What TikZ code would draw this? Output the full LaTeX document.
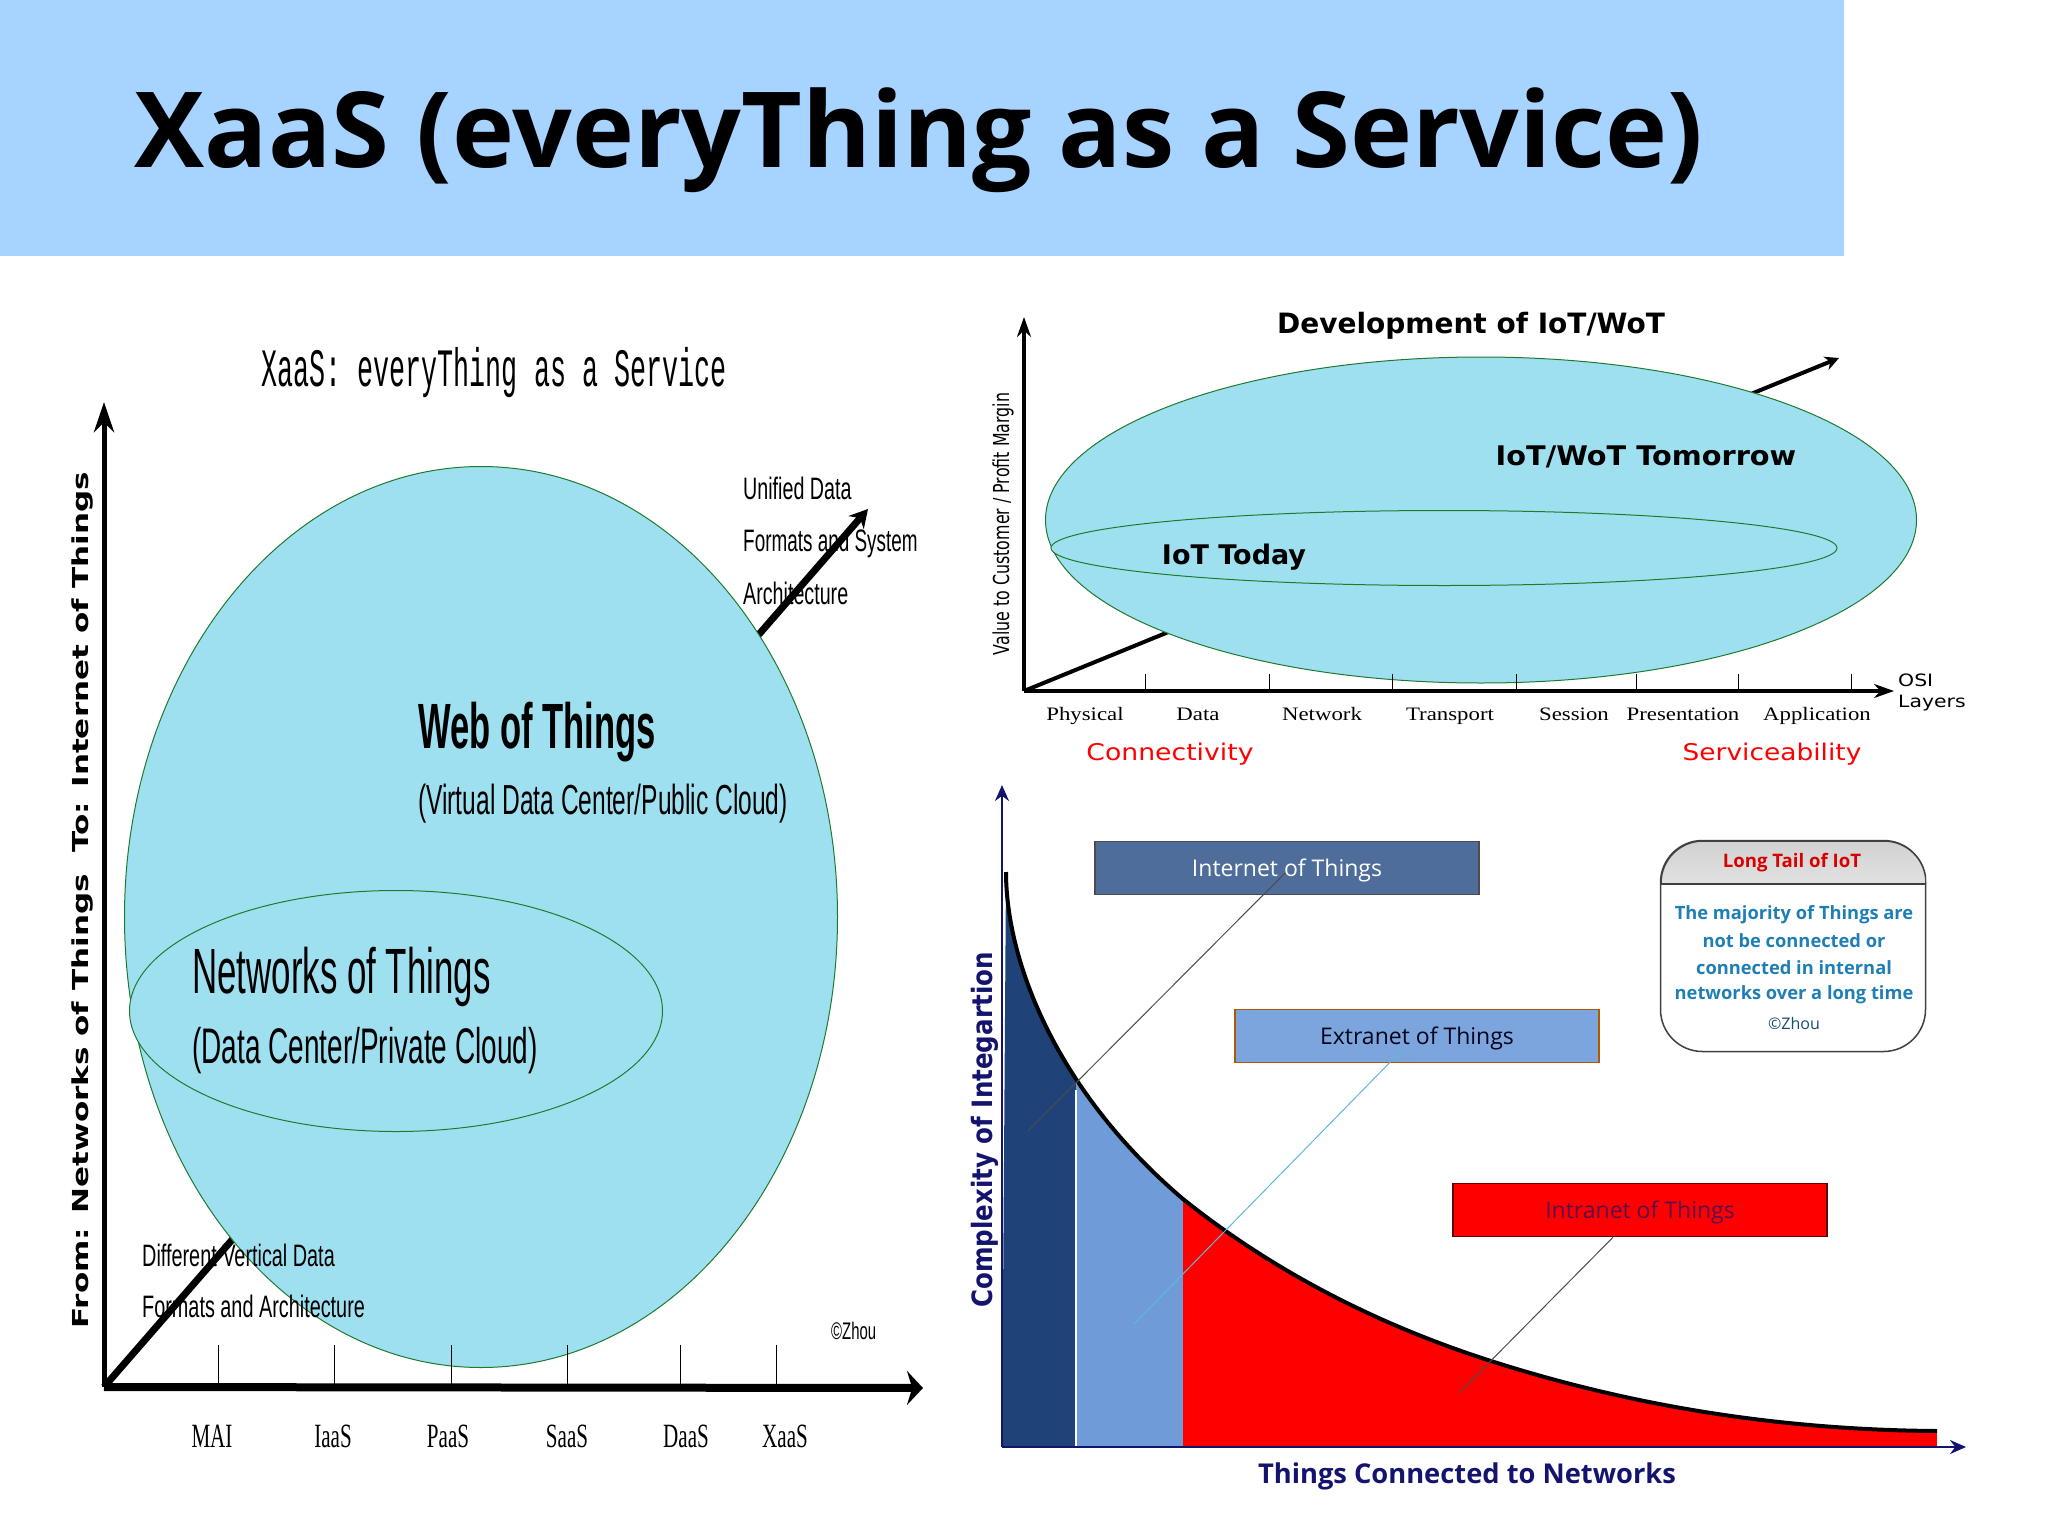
\documentclass[tikz,border=0pt]{standalone}
\usepackage{fontspec}
\usepackage{xcolor}
\usepackage{tikz}
\usetikzlibrary{arrows.meta}
\usetikzlibrary{shapes.geometric}
\setmainfont{Liberation Sans}
\newfontfamily\opensans{Open Sans}
\newfontfamily\dejavu{DejaVu Sans}
\newfontfamily\timesface{Liberation Serif}
\newfontfamily\monoface{Liberation Mono}
\definecolor{bannerblue}{HTML}{A6D3FF}
\definecolor{bubbleblue}{HTML}{9FE0F0}
\definecolor{bubbleline}{HTML}{1E7A2E}
\definecolor{navyink}{HTML}{14146E}
\definecolor{darkband}{HTML}{1F4278}
\definecolor{lightband}{HTML}{6F9BD8}
\definecolor{internetbox}{HTML}{4F6D9B}
\definecolor{extranetbox}{HTML}{7CA5DD}
\definecolor{tailtext}{HTML}{1F7FB5}
\definecolor{leaderblue}{HTML}{5FB8D8}
\newcommand{\squeeze}[2]{\scalebox{#1}[1]{#2}}
\newcommand{\tailline}{.. controls (1006,960) and (1055,1090) .. (1183,1199) .. controls (1283,1279) and (1391,1329) .. (1491,1361) .. controls (1641,1409) and (1790,1430) .. (1937,1431)}
\tikzstyle{bubble} = [ellipse, draw=bubbleline, fill=bubbleblue, line width=1pt, inner sep=0pt]
\tikzstyle{axisthin} = [black, line width=3.5pt, -{Stealth[length=20pt,width=14pt]}]
\tikzstyle{axisthick} = [black, line width=8pt, -{Stealth[length=16pt,width=34pt]}]
\tikzstyle{tickline} = [black, line width=1pt]
\tikzstyle{note} = [inner sep=0pt, anchor=west, font=\fontsize{31}{31}\selectfont]
\tikzstyle{serieslabel} = [inner sep=0pt, anchor=base, font=\timesface\fontsize{34}{34}\selectfont]
\tikzstyle{osilabel} = [inner sep=0pt, anchor=base, font=\timesface\fontsize{19}{19}\selectfont]
\tikzstyle{kindbox} = [rectangle, inner sep=0pt, line width=1.5pt, minimum height=53pt, text height=20pt, text depth=4pt, font=\opensans\fontsize{23}{23}\selectfont]
\tikzstyle{tailline} = [inner sep=0pt, text=tailtext, font=\opensans\bfseries\fontsize{18.3}{18.3}\selectfont]
\tikzstyle{leader} = [line width=1pt]
\begin{document}
\begin{tikzpicture}[x=1pt,y=-1pt]
    \useasboundingbox (0,0) rectangle (2048,1536);
    \fill[bannerblue] (0,0) rectangle (1844,256);
    \node[inner sep=0pt, font=\opensans\bfseries\fontsize{105}{105}\selectfont] (title) at (919,140) {XaaS (everyThing as a Service)};

    \coordinate (lorg) at (104,1387);
    \coordinate (ltop) at (104,402);
    \coordinate (lend) at (923,1388);
    \coordinate (ltip) at (868,509);
    \draw[line width=7pt, -{Stealth[length=18pt,width=20pt]}] (lorg) -- (ltip);
    \node[bubble, minimum width=713pt, minimum height=901pt] (web) at (481,917) {};
    \node[bubble, minimum width=533pt, minimum height=241pt] (net) at (396,1011) {};
    \foreach \tx/\name/\lx in {218/MAI/212, 334/IaaS/333, 451/PaaS/448, 567/SaaS/567, 680/DaaS/686, 776/XaaS/785} {
        \coordinate (t\name) at (\tx,1345);
        \coordinate (b\name) at (\tx,1387);
        \draw[tickline] (t\name) -- (b\name);
        \node[serieslabel] (l\name) at (\lx,1447) {\squeeze{.62}{\name}};
    }
    \draw[axisthin, line width=5pt, -{Stealth[length=30pt,width=20pt]}] (lorg) -- (ltop);
    \draw[axisthick] (lorg) -- (lend);
    \node[inner sep=0pt, font=\monoface\fontsize{54}{54}\selectfont] (ltitle) at (494,373) {\squeeze{.495}{XaaS: everyThing as a Service}};
    \node[inner sep=0pt, rotate=90, font=\dejavu\bfseries\fontsize{22}{22}\selectfont] (lylabel) at (83,900) {\squeeze{1.41}{From: Networks of Things\ \ To: Internet of Things}};
    \node[note] (u1) at (743,488) {\squeeze{.635}{Unified Data}};
    \node[note] (u2) at (743,543) {\squeeze{.61}{Formats and System}};
    \node[note] (u3) at (743,593) {\squeeze{.635}{Architecture}};
    \node[note, font=\bfseries\fontsize{64}{64}\selectfont] (webt) at (418,732) {\squeeze{.54}{Web of Things}};
    \node[note, font=\fontsize{42}{42}\selectfont] (webs) at (418,804) {\squeeze{.585}{(Virtual Data Center/Public Cloud)}};
    \node[note, font=\fontsize{64}{64}\selectfont] (nett) at (192,977) {\squeeze{.545}{Networks of Things}};
    \node[note, font=\fontsize{50}{50}\selectfont] (nets) at (192,1051) {\squeeze{.56}{(Data Center/Private Cloud)}};
    \node[note] (d1) at (142,1255) {\squeeze{.64}{Different Vertical Data}};
    \node[note] (d2) at (142,1306) {\squeeze{.64}{Formats and Architecture}};
    \node[note, font=\fontsize{24}{24}\selectfont] (lcopy) at (831,1331) {\squeeze{.62}{©Zhou}};

    \coordinate (rorg) at (1024,691);
    \coordinate (rtop) at (1024,317);
    \coordinate (rend) at (1894,691);
    \coordinate (rtip) at (1839,358);
    \draw[line width=4pt, -{Stealth[length=14pt,width=14pt]}] (rorg) -- (rtip);
    \node[bubble, minimum width=871pt, minimum height=326pt] (tomorrow) at (1481,520) {};
    \node[bubble, minimum width=786pt, minimum height=75pt] (today) at (1444,548) {};
    \foreach \tx in {1145,1269,1392,1516,1636,1738,1851} {
        \coordinate (t\tx) at (\tx,674);
        \coordinate (b\tx) at (\tx,691);
        \draw[tickline] (t\tx) -- (b\tx);
    }
    \draw[axisthin] (rorg) -- (rtop);
    \draw[axisthin] (rorg) -- (rend);
    \foreach \lx/\name in {1085/Physical, 1198/Data, 1322/Network, 1450/Transport, 1574/Session, 1683/Presentation, 1817/Application} {
        \node[osilabel] (o\name) at (\lx,720) {\squeeze{1.2}{\name}};
    }
    \node[inner sep=0pt, anchor=west, font=\dejavu\fontsize{17}{17}\selectfont] (osi) at (1898,680) {\squeeze{1.2}{OSI}};
    \node[inner sep=0pt, anchor=west, font=\dejavu\fontsize{17}{17}\selectfont] (layers) at (1898,703) {\squeeze{1.2}{Layers}};
    \node[inner sep=0pt, anchor=base, text=red, font=\dejavu\fontsize{23}{23}\selectfont] (conn) at (1170,760) {\squeeze{1.16}{Connectivity}};
    \node[inner sep=0pt, anchor=base, text=red, font=\dejavu\fontsize{23}{23}\selectfont] (serv) at (1772,760) {\squeeze{1.15}{Serviceability}};
    \node[inner sep=0pt, font=\dejavu\bfseries\fontsize{28}{28}\selectfont] (rtitle) at (1471,326) {Development of IoT/WoT};
    \node[inner sep=0pt, font=\dejavu\bfseries\fontsize{27}{27}\selectfont] (tom) at (1646,457) {\squeeze{1.065}{IoT/WoT Tomorrow}};
    \node[inner sep=0pt, font=\dejavu\bfseries\fontsize{27}{27}\selectfont] (tod) at (1234,557) {IoT Today};
    \node[inner sep=0pt, rotate=90, font=\dejavu\fontsize{22}{22}\selectfont] (rylabel) at (1003,524) {\squeeze{.72}{Value to Customer / Profit Margin}};

    \coordinate (corg) at (1002,1447);
    \coordinate (ctop) at (1002,785);
    \coordinate (cend) at (1966,1447);
    \begin{scope}
        \clip (corg) -- (1006,872) \tailline -- (1937,1447) -- cycle;
        \fill[darkband] (1002,860) rectangle (1076,1447);
        \fill[lightband] (1076,860) rectangle (1183,1447);
        \fill[red] (1183,860) rectangle (1937,1447);
    \end{scope}
    \coordinate (sp1) at (1076,1090);
    \coordinate (sp2) at (1076,1447);
    \draw[white, line width=1.5pt] (sp1) -- (sp2);
    \draw[black, line width=4pt] (1006,872) \tailline;
    \draw[navyink, line width=2.5pt, -{Stealth[length=16pt,width=14pt]}] (corg) -- (ctop);
    \draw[navyink, line width=2.5pt, -{Stealth[length=16pt,width=14pt]}] (corg) -- (cend);
    \node[kindbox, draw=black!70, fill=internetbox, text=white, minimum width=384pt] (inet) at (1287,868) {Internet of Things};
    \node[kindbox, draw=orange!70!black, fill=extranetbox, text=black!75!navyink, minimum width=364pt] (enet) at (1417,1036) {Extranet of Things};
    \node[kindbox, draw=black!60!red, fill=red, text=navyink!70!red, minimum width=374pt] (anet) at (1640,1210) {Intranet of Things};
    \coordinate (lead1) at (1028,1131);
    \coordinate (lead2) at (1134,1324);
    \coordinate (lead3) at (1459,1393);
    \coordinate (from1) at (1285,873);
    \coordinate (from2) at (1401,1051);
    \draw[leader, black!70] (from1) -- (lead1);
    \draw[leader, leaderblue] (from2) -- (lead2);
    \draw[leader, black!70] (anet.south) ++(-27,0) coordinate (from3) -- (lead3);
    \node[rectangle, rounded corners=42pt, draw=black!75, line width=1.5pt, minimum width=265pt, minimum height=211pt] (tail) at (1793,946) {};
    \begin{scope}
        \clip (1661,841) rectangle (1926,883);
        \shade[top color=black!18, bottom color=white, rounded corners=42pt] (1661,841) rectangle (1926,960);
        \draw[black!75, line width=1.5pt, rounded corners=42pt] (1661,841) rectangle (1926,1052);
    \end{scope}
    \coordinate (hl) at (1661,884);
    \coordinate (hr) at (1926,884);
    \draw[black!75, line width=1.5pt] (hl) -- (hr);
    \node[inner sep=0pt, text=red!85!black, font=\opensans\bfseries\fontsize{18.6}{18.6}\selectfont] (tailhead) at (1792,863) {Long Tail of IoT};
    \node[tailline] (tl1) at (1794,915) {The majority of Things are};
    \node[tailline] (tl2) at (1794,941) {not be connected or};
    \node[tailline] (tl3) at (1794,968) {connected in internal};
    \node[tailline] (tl4) at (1794,995) {networks over a long time};
    \node[inner sep=0pt, text=black!40!tailtext, font=\opensans\fontsize{16}{16}\selectfont] (tl5) at (1794,1023) {©Zhou};
    \node[inner sep=0pt, rotate=90, text=navyink, font=\dejavu\bfseries\fontsize{28}{28}\selectfont] (cylabel) at (985,1130) {\squeeze{.877}{Complexity of Integartion}};
    \node[inner sep=0pt, text=navyink, font=\opensans\bfseries\fontsize{27.3}{27.3}\selectfont] (cxlabel) at (1467,1476) {Things Connected to Networks};
\end{tikzpicture}
\end{document}
